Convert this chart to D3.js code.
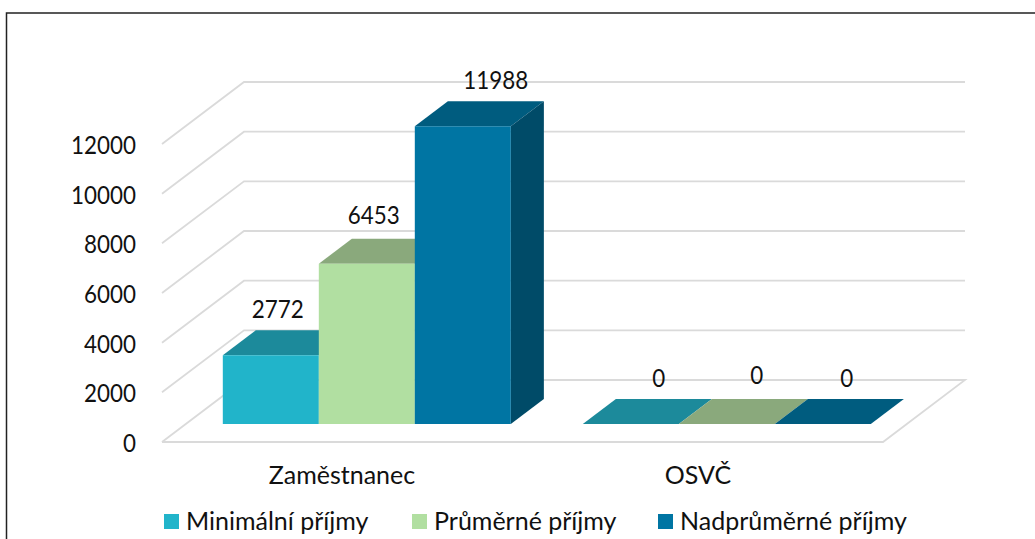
<!DOCTYPE html>
<html>
<head>
<meta charset="utf-8">
<script src="https://cdn.jsdelivr.net/npm/d3@7"></script>
<style>
  html, body { margin: 0; padding: 0; background: #fff; }
  svg { display: block; }
  text { font-family: Lato, "Open Sans", sans-serif; fill: #111; font-size: 25px; }
</style>
</head>
<body>
<script>
var categories = ['Zaměstnanec', 'OSVČ'];
var seriesNames = ['Minimální příjmy', 'Průměrné příjmy', 'Nadprůměrné příjmy'];
var minimalni = [2772, 0];
var prumerne = [6453, 0];
var nadprumerne = [11988, 0];
var yTicks = [0, 2000, 4000, 6000, 8000, 10000, 12000];

var frontColors = ['#21B4CA', '#B1DFA1', '#0075A3'];
var topColors = ['#1C8A9B', '#8AA97C', '#005C7F'];
var sideColors = ['#167585', '#6F9A62', '#004B68'];

// data labels were dragged by hand in the original, so they sit off centre
var labelShiftX = [[7, 7, 33], [28, 30, 24]];
var labelShiftY = [[-46, -49, -46], [-46, -49, -46]];
var categoryShiftX = [-1, -5];

var values = [minimalni, prumerne, nadprumerne];

var svg = d3.select('body').append('svg')
  .attr('width', 1035)
  .attr('height', 539);

svg.append('rect')
  .attr('width', 1035)
  .attr('height', 539)
  .attr('fill', '#fff');

// frame runs off the right and bottom of the picture
svg.append('rect')
  .attr('x', 6.5)
  .attr('y', 13)
  .attr('width', 1100)
  .attr('height', 600)
  .attr('fill', 'none')
  .attr('stroke', '#222')
  .attr('stroke-width', 1.5);

var y = d3.scaleLinear().domain([0, 12000]).range([442, 144]);
var x = d3.scaleBand().domain(d3.range(categories.length)).range([163, 883]);
var barW = 96;
var xInner = d3.scaleBand().domain(d3.range(seriesNames.length))
  .range([0, barW * seriesNames.length]);

// oblique projection: depth 0 is the front of the floor, 1 the back wall
var depthX = d3.scaleLinear().domain([0, 1]).range([0, 82]);
var depthY = d3.scaleLinear().domain([0, 1]).range([0, -62]);
var barFront = 18 / 62;
var barBack = 43 / 62;

function pt(px, v, d) {
  return [px + depthX(d), y(v) + depthY(d)];
}
function poly(points) {
  return d3.line()(points) + 'Z';
}
// the original digits are narrower than Lato's, squeeze them to fit
function digitWidth(v) {
  return String(v).length * 13;
}

var floorLeft = 162;
var floorRight = 883;
var grid = svg.append('g');

yTicks.forEach(function(t) {
  var pts = [pt(floorLeft, t, 0), pt(floorLeft, t, 1), pt(floorRight, t, 1)];
  if (t === 0) {
    pts.push(pt(floorRight, t, 0));
    pts.push(pt(floorLeft, t, 0));
  }
  grid.append('path')
    .attr('d', d3.line()(pts))
    .attr('fill', 'none')
    .attr('stroke', '#DADADA')
    .attr('stroke-width', 1.8);
});

// y axis labels
svg.selectAll('.ytick')
  .data(yTicks)
  .enter().append('text')
  .attr('class', 'ytick')
  .attr('x', 136)
  .attr('y', function(d) { return y(d) + 1; })
  .attr('dy', '0.36em')
  .attr('text-anchor', 'end')
  .attr('textLength', digitWidth)
  .attr('lengthAdjust', 'spacingAndGlyphs')
  .text(function(d) { return d; });

// bars, left to right so that later ones cover the earlier sides
var bars = svg.append('g');
categories.forEach(function(c, ci) {
  seriesNames.forEach(function(s, si) {
    var v = values[si][ci];
    var x0 = x(ci) + (x.bandwidth() - barW * seriesNames.length) / 2 + xInner(si);
    var x1 = x0 + xInner.bandwidth();

    bars.append('path')
      .attr('d', poly([pt(x0, v, barFront), pt(x0, v, barBack), pt(x1, v, barBack), pt(x1, v, barFront)]))
      .attr('fill', topColors[si]);
    bars.append('path')
      .attr('d', poly([pt(x1, 0, barFront), pt(x1, v, barFront), pt(x1, v, barBack), pt(x1, 0, barBack)]))
      .attr('fill', sideColors[si]);
    bars.append('path')
      .attr('d', poly([pt(x0, 0, barFront), pt(x0, v, barFront), pt(x1, v, barFront), pt(x1, 0, barFront)]))
      .attr('fill', frontColors[si]);
  });
});

// value labels on top of the 3d bars
categories.forEach(function(c, ci) {
  seriesNames.forEach(function(s, si) {
    var v = values[si][ci];
    var x0 = x(ci) + (x.bandwidth() - barW * seriesNames.length) / 2 + xInner(si);
    var p = pt(x0 + xInner.bandwidth() / 2, v, barFront);
    svg.append('text')
      .attr('x', p[0] + labelShiftX[ci][si])
      .attr('y', p[1] + labelShiftY[ci][si])
      .attr('dy', '0.36em')
      .attr('text-anchor', 'middle')
      .attr('textLength', digitWidth(v))
      .attr('lengthAdjust', 'spacingAndGlyphs')
      .text(v);
  });
});

// category labels
svg.selectAll('.cat')
  .data(categories)
  .enter().append('text')
  .attr('class', 'cat')
  .attr('x', function(d, i) { return x(i) + x.bandwidth() / 2 + categoryShiftX[i]; })
  .attr('y', 484)
  .attr('text-anchor', 'middle')
  .text(function(d) { return d; });

// legend
var legendX = [164, 412, 658];
var legend = svg.selectAll('.leg')
  .data(seriesNames)
  .enter().append('g')
  .attr('class', 'leg')
  .attr('transform', function(d, i) { return 'translate(' + legendX[i] + ',514)'; });

legend.append('rect')
  .attr('width', 15)
  .attr('height', 15)
  .attr('fill', function(d, i) { return frontColors[i]; });

legend.append('text')
  .attr('x', 22)
  .attr('y', 16)
  .text(function(d) { return d; });
</script>
</body>
</html>
